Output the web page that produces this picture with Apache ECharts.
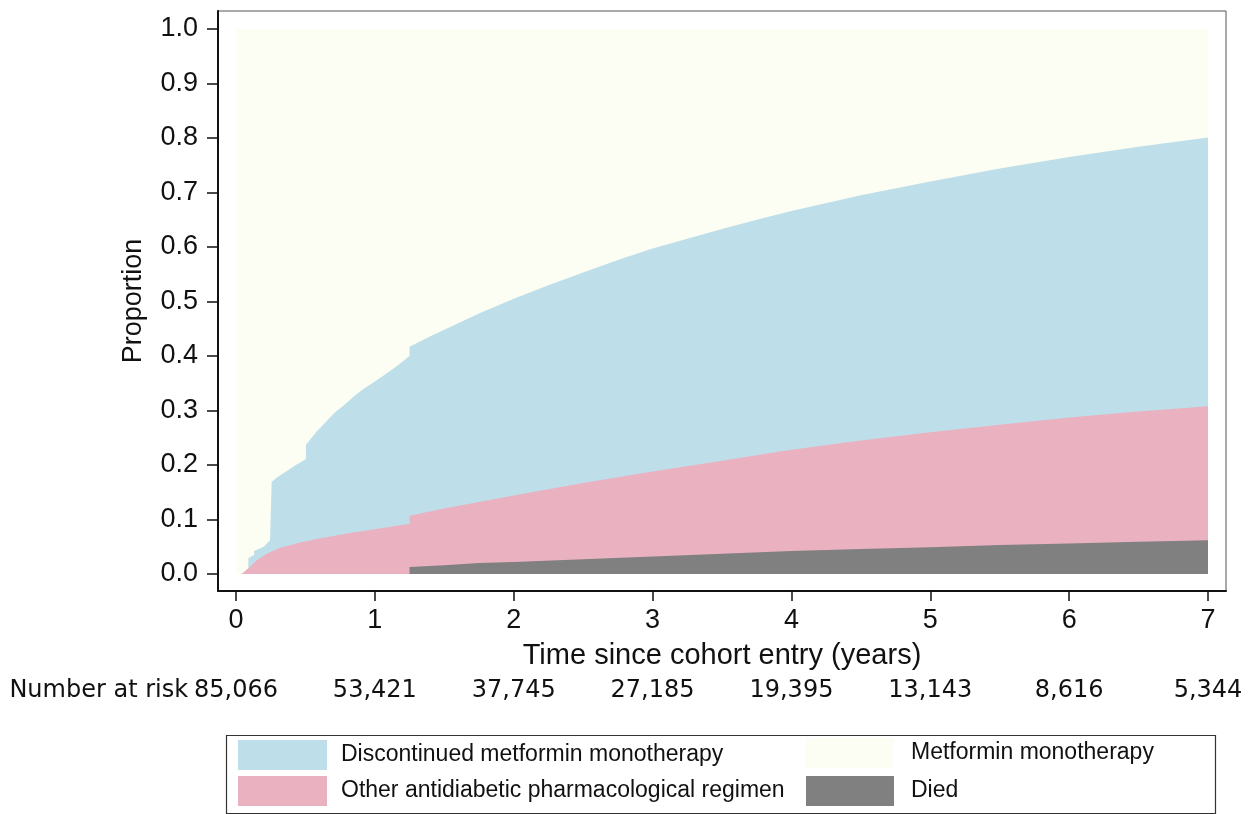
<!DOCTYPE html>
<html>
<head>
<meta charset="utf-8">
<script src="https://cdn.jsdelivr.net/npm/echarts@6/dist/echarts.min.js"></script>
<style>
  html, body { margin: 0; padding: 0; background: #fff; }
  #chart { width: 1253px; height: 814px; }
</style>
</head>
<body>
<div id="chart"></div>
<script>
// tick positions and labels
var years = [0, 1, 2, 3, 4, 5, 6, 7];
var proportionTicks = [0, 0.1, 0.2, 0.3, 0.4, 0.5, 0.6, 0.7, 0.8, 0.9, 1.0];
var atRisk = ['85,066', '53,421', '37,745', '27,185', '19,395', '13,143', '8,616', '5,344'];

// upper edge of each band, [years, cumulative proportion]
var monotherapy = [[0, 1], [7, 1]];
var discontinued = [
    [0.089, 0.013], [0.089, 0.029], [0.13, 0.035], [0.13, 0.042], [0.2, 0.05], [0.245, 0.062],
    [0.257, 0.062], [0.257, 0.169], [0.3, 0.178], [0.35, 0.186], [0.42, 0.198], [0.504, 0.211],
    [0.504, 0.237], [0.58, 0.261], [0.65, 0.28], [0.72, 0.298], [0.78, 0.31], [0.85, 0.326],
    [0.92, 0.34], [1.0, 0.353], [1.05, 0.362], [1.15, 0.38], [1.25, 0.4], [1.25, 0.417],
    [1.4, 0.436], [1.5, 0.448], [1.75, 0.478], [2.0, 0.505], [2.25, 0.53], [2.5, 0.553],
    [2.75, 0.576], [3.0, 0.597], [3.25, 0.615], [3.5, 0.633], [3.75, 0.65], [4.0, 0.666],
    [4.5, 0.695], [5.0, 0.72], [5.5, 0.744], [6.0, 0.765], [6.5, 0.784], [7.0, 0.801]
];
var otherRegimen = [
    [0.04, 0], [0.1, 0.013], [0.15, 0.025], [0.22, 0.037], [0.32, 0.048], [0.46, 0.058],
    [0.6, 0.065], [0.82, 0.075], [1.0, 0.082], [1.25, 0.092], [1.25, 0.107], [1.5, 0.12],
    [1.75, 0.132], [2.0, 0.144], [2.5, 0.167], [3.0, 0.188], [3.5, 0.208], [4.0, 0.228],
    [4.5, 0.245], [5.0, 0.26], [5.5, 0.274], [6.0, 0.287], [6.5, 0.298], [7.0, 0.308]
];
var died = [
    [1.25, 0.013], [1.5, 0.016], [1.75, 0.02], [2.0, 0.022], [2.5, 0.027], [3.0, 0.032],
    [3.5, 0.037], [4.0, 0.042], [4.5, 0.046], [5.0, 0.049], [5.5, 0.053], [6.0, 0.056],
    [6.5, 0.059], [7.0, 0.062]
];

var chartDom = document.getElementById('chart');
var myChart = echarts.init(chartDom);

var axisFont = 'Liberation Sans';

function band(name, data, color) {
    return {
        name: name,
        type: 'line',
        data: data,
        symbol: 'none',
        lineStyle: { width: 0 },
        itemStyle: { color: color },
        areaStyle: { color: color, opacity: 1, origin: 0 },
        silent: true
    };
}

var option = {
    animation: false,
    grid: { left: 218, right: 27, top: 11, bottom: 223, show: true, borderColor: '#555', borderWidth: 1 },
    xAxis: [
        {
            type: 'value', min: -0.1296, max: 7.1296,
            axisLine: { show: true, onZero: false, lineStyle: { color: '#111', width: 2 } },
            axisTick: { show: true, length: 10, customValues: years, lineStyle: { color: '#111', width: 1.5 } },
            axisLabel: { margin: 16, color: '#111', fontSize: 27, fontFamily: axisFont, customValues: years },
            splitLine: { show: false },
            name: 'Time since cohort entry (years)',
            nameLocation: 'middle', nameGap: 50,
            nameTextStyle: { color: '#111', fontSize: 29, fontFamily: axisFont }
        },
        {
            type: 'value', min: -0.1296, max: 7.1296, offset: 88, position: 'bottom',
            axisLine: { show: false, onZero: false }, axisTick: { show: false }, splitLine: { show: false },
            axisLabel: {
                margin: 0, color: '#111', fontSize: 24, fontFamily: 'DejaVu Sans', customValues: years,
                formatter: function (v) { return atRisk[years.indexOf(v)]; }
            },
            name: 'Number at risk', nameLocation: 'start', nameGap: 26,
            nameTextStyle: { color: '#111', fontSize: 24, fontFamily: 'DejaVu Sans', verticalAlign: 'top' }
        }
    ],
    yAxis: {
        type: 'value', min: -0.0312, max: 1.033,
        axisLine: { show: true, onZero: false, lineStyle: { color: '#111', width: 2 } },
        axisTick: { show: true, length: 11, customValues: proportionTicks, lineStyle: { color: '#111', width: 1.5 } },
        axisLabel: {
            margin: 20, color: '#111', fontSize: 27, fontFamily: axisFont, customValues: proportionTicks,
            formatter: function (v) { return v.toFixed(1); }
        },
        splitLine: { show: false },
        name: 'Proportion', nameLocation: 'middle', nameGap: 71,
        nameTextStyle: { color: '#111', fontSize: 27, fontFamily: axisFont }
    },
    legend: [
        {
            left: 238, top: 740, orient: 'vertical', padding: 0, itemGap: 6,
            itemWidth: 89, itemHeight: 30, icon: 'rect',
            itemStyle: { borderWidth: 0 },
            textStyle: { color: '#111', fontSize: 23, fontFamily: axisFont, padding: [0, 0, 0, 9] },
            data: ['Discontinued metformin monotherapy', 'Other antidiabetic pharmacological regimen']
        },
        {
            left: 806, top: 738, orient: 'vertical', padding: 0, itemGap: 8,
            itemWidth: 88, itemHeight: 30, icon: 'rect',
            itemStyle: { borderWidth: 0 },
            textStyle: { color: '#111', fontSize: 23, fontFamily: axisFont, padding: [0, 0, 0, 12] },
            data: ['Metformin monotherapy', 'Died']
        }
    ],
    graphic: [
        {
            type: 'rect', left: 224, top: 733,
            shape: { width: 989, height: 78 },
            style: { fill: 'none', stroke: '#333', lineWidth: 1.2 }
        }
    ],
    series: [
        band('Metformin monotherapy', monotherapy, '#fcfdf3'),
        band('Discontinued metformin monotherapy', discontinued, '#bedfe9'),
        band('Other antidiabetic pharmacological regimen', otherRegimen, '#eab1c1'),
        band('Died', died, '#808080')
    ]
};

myChart.setOption(option);
</script>
</body>
</html>
